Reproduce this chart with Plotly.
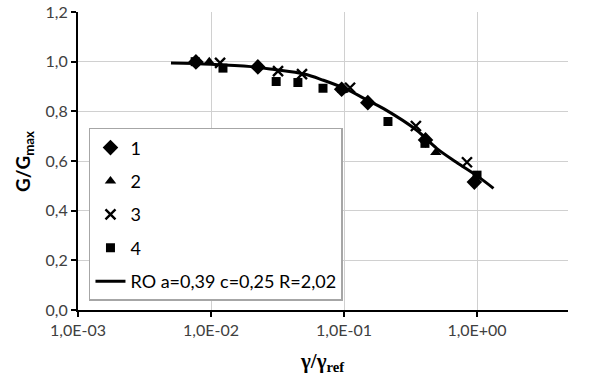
import plotly.graph_objects as go

# ---- data ----
s1_x = [0.0077, 0.0225, 0.096, 0.151, 0.41, 0.955]
s1_y = [0.999, 0.979, 0.889, 0.835, 0.685, 0.515]

s2_x = [0.0097, 0.0222, 0.098, 0.49]
s2_y = [1.000, 0.985, 0.885, 0.634]

s3_x = [0.0117, 0.0319, 0.0483, 0.111, 0.347, 0.84]
s3_y = [0.995, 0.962, 0.950, 0.895, 0.741, 0.595]

s4_x = [0.0076, 0.0123, 0.0309, 0.045, 0.0695, 0.214, 0.406, 1.0]
s4_y = [1.000, 0.974, 0.920, 0.916, 0.893, 0.759, 0.671, 0.543]

ro_x = [0.005, 0.01, 0.02, 0.03, 0.05, 0.07, 0.1, 0.15, 0.2, 0.35, 0.5, 0.7, 1.0, 1.33]
ro_y = [0.995, 0.99, 0.98, 0.968, 0.95, 0.925, 0.893, 0.845, 0.81, 0.725, 0.65, 0.595, 0.54, 0.49]

names = ["1", "2", "3", "4", "RO a=0,39 c=0,25 R=2,02"]

x_tickvals = [0.001, 0.01, 0.1, 1]
x_ticktext = ["1,0E-03", "1,0E-02", "1,0E-01", "1,0E+00"]
y_tickvals = [0.0, 0.2, 0.4, 0.6, 0.8, 1.0, 1.2]
y_ticktext = ["0,0", "0,2", "0,4", "0,6", "0,8", "1,0", "1,2"]

x_title = "<b>γ/γ<sub>ref</sub></b>"
y_title = "<b>G/G<sub>max</sub></b>"

FONT = "Lato"
fig = go.Figure()

fig.add_trace(go.Scatter(x=s1_x, y=s1_y, mode="markers", name=names[0], legendgroup="g1",
                         marker=dict(symbol="diamond", size=12, color="black")))
fig.add_trace(go.Scatter(x=s2_x, y=s2_y, mode="markers", name=names[1], legendgroup="g2",
                         marker=dict(symbol="triangle-up", size=10, color="black")))
fig.add_trace(go.Scatter(x=s3_x, y=s3_y, mode="markers", name=names[2], legendgroup="g3",
                         marker=dict(symbol="x-thin", size=10, color="black",
                                     line=dict(width=2.4, color="black"))))
fig.add_trace(go.Scatter(x=s4_x, y=s4_y, mode="markers", name=names[3], legendgroup="g4",
                         marker=dict(symbol="square", size=9, color="black")))
fig.add_trace(go.Scatter(x=ro_x, y=ro_y, mode="lines", name=names[4], legendgroup="g5",
                         line=dict(color="black", width=3, shape="spline")))

fig.update_layout(
    width=602, height=389,
    margin=dict(l=78, r=34, t=12, b=79),
    paper_bgcolor="white", plot_bgcolor="white",
    font=dict(family=FONT, size=16, color="#404040"),
    showlegend=True,
    legend=dict(x=0.0224, y=0.611, xanchor="left", yanchor="top",
                bordercolor="#a6a6a6", borderwidth=1.5, bgcolor="white",
                font=dict(family=FONT, size=18, color="black"),
                traceorder="grouped", tracegroupgap=7, itemwidth=30),
    xaxis=dict(type="log", range=[-3, 0.684], automargin=False,
               tickvals=x_tickvals, ticktext=x_ticktext,
               showgrid=True, gridcolor="#d0d0d0", gridwidth=1,
               showline=True, linecolor="black", linewidth=2,
               ticks="outside", ticklen=5, tickwidth=1.5, tickcolor="black",
               zeroline=False),
    yaxis=dict(range=[0, 1.2], automargin=False,
               tickvals=y_tickvals, ticktext=y_ticktext,
               showgrid=True, gridcolor="#d0d0d0", gridwidth=1,
               showline=True, linecolor="black", linewidth=2,
               ticks="outside", ticklen=5, tickwidth=1.5, tickcolor="black",
               zeroline=False),
    annotations=[
        dict(text=x_title, xref="paper", yref="paper", x=(322 - 78) / 490, y=-(362 - 310) / 298,
             xanchor="center", yanchor="middle", showarrow=False,
             font=dict(family="Liberation Serif", size=21, color="black")),
        dict(text=y_title, xref="paper", yref="paper", x=-(78 - 24) / 490, y=(310 - 162) / 298,
             xanchor="center", yanchor="middle", showarrow=False, textangle=-90,
             font=dict(family=FONT, size=19, color="black")),
    ],
)

fig.write_html("out.html", config={"displayModeBar": False},
               post_script="document.body.style.margin='0px';")
